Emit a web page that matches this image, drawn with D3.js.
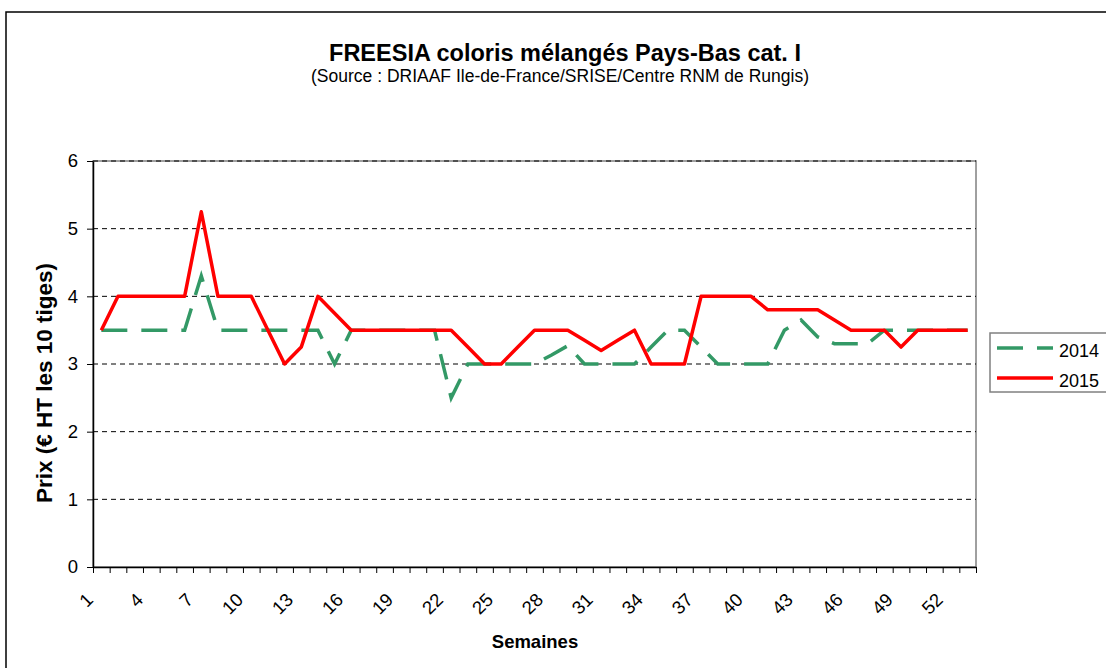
<!DOCTYPE html>
<html>
<head>
<meta charset="utf-8">
<script src="https://cdn.jsdelivr.net/npm/d3@7"></script>
<style>
  body { margin: 0; background: #fff; }
  svg { font-family: "Liberation Sans", Arial, sans-serif; }
</style>
</head>
<body>
<svg id="chart"></svg>
<script>
// weekly prices
var weeks = d3.range(1, 54);
var prix2014 = [3.5,3.5,3.5,3.5,3.5,3.5,4.3,3.5,3.5,3.5,
                3.5,3.5,3.5,3.5,3.0,3.5,3.5,3.5,3.5,3.5,
                3.5,2.5,3.0,3.0,3.0,3.0,3.0,3.13,3.27,3.0,
                3.0,3.0,3.0,3.25,3.5,3.5,3.25,3.0,3.0,3.0,
                3.0,3.5,3.65,3.4,3.3,3.3,3.3,3.5,3.5,3.5,
                3.5,3.5,3.5];
var prix2015 = [3.5,4,4,4,4,4,5.25,4,4,4,
                3.5,3.0,3.25,4,3.75,3.5,3.5,3.5,3.5,3.5,
                3.5,3.5,3.25,3.0,3.0,3.25,3.5,3.5,3.5,3.35,
                3.2,3.35,3.5,3.0,3.0,3.0,4,4,4,4,
                3.8,3.8,3.8,3.8,3.65,3.5,3.5,3.5,3.25,3.5,
                3.5,3.5,3.5];
var seriesNames = ["2014", "2015"];
var seriesColors = ["#339966", "#ff0000"];
var yTicks = [0, 1, 2, 3, 4, 5, 6];
var xTickWeeks = weeks.filter(w => (w - 1) % 3 === 0);

class LineChart {
    constructor(_config) {
        this.config = {
            parentElement: _config.parentElement,
            containerWidth: 1106,
            containerHeight: 668,
            plot: {left: 93, right: 976, top: 161, bottom: 567}
        }
        this.initVis();
    }

    initVis() {
        let vis = this;
        let p = vis.config.plot;

        vis.svg = d3.select(vis.config.parentElement)
            .attr('width', vis.config.containerWidth)
            .attr('height', vis.config.containerHeight);

        // outer chart frame (cut off on the right and bottom)
        vis.svg.append('rect')
            .attr('x', 6).attr('y', 12)
            .attr('width', 1120).attr('height', 680)
            .attr('fill', 'none').attr('stroke', '#000').attr('stroke-width', 1.5);

        vis.svg.append('text')
            .attr('x', 565).attr('y', 61)
            .attr('text-anchor', 'middle')
            .attr('font-size', '23.5px').attr('font-weight', 'bold')
            .text('FREESIA coloris mélangés Pays-Bas cat. I');
        vis.svg.append('text')
            .attr('x', 560).attr('y', 82)
            .attr('text-anchor', 'middle')
            .attr('font-size', '17.5px')
            .text('(Source : DRIAAF Ile-de-France/SRISE/Centre RNM de Rungis)');

        vis.xScale = d3.scaleLinear().domain([0.5, 53.5]).range([p.left, p.right]);
        vis.yScale = d3.scaleLinear().domain([0, 6]).range([p.bottom, p.top]);

        vis.updateVis();
    }

    updateVis() {
        let vis = this;
        let p = vis.config.plot;

        // plot area border
        vis.svg.append('rect')
            .attr('x', p.left).attr('y', p.top)
            .attr('width', p.right - p.left).attr('height', p.bottom - p.top)
            .attr('fill', 'none').attr('stroke', '#808080').attr('stroke-width', 1.5);

        // gridlines
        vis.svg.selectAll('.grid')
            .data(yTicks.filter(d => d > 0))
            .join('line')
            .attr('class', 'grid')
            .attr('x1', p.left).attr('x2', p.right)
            .attr('y1', d => vis.yScale(d)).attr('y2', d => vis.yScale(d))
            .attr('stroke', '#000').attr('stroke-width', 1)
            .attr('stroke-dasharray', '5,4');

        // axes
        vis.yAxis = d3.axisLeft(vis.yScale)
            .tickValues(yTicks)
            .tickFormat(d3.format('d'))
            .tickSize(6).tickPadding(9).tickSizeOuter(0);
        vis.yAxisGroup = vis.svg.append('g')
            .attr('transform', `translate(${p.left},0)`)
            .call(vis.yAxis);

        vis.xAxis = d3.axisBottom(vis.xScale)
            .tickValues(d3.range(0.5, 54, 1))
            .tickFormat('')
            .tickSize(6).tickSizeOuter(0);
        vis.xAxisGroup = vis.svg.append('g')
            .attr('transform', `translate(0,${p.bottom})`)
            .call(vis.xAxis);

        [vis.xAxisGroup, vis.yAxisGroup].forEach(g => {
            g.select('.domain').attr('stroke', '#000').attr('stroke-width', 1.5);
            g.selectAll('.tick line').attr('stroke', '#000');
            g.selectAll('.tick text').attr('font-size', '18.5px').attr('fill', '#000')
                .attr('font-family', '"Liberation Sans", Arial, sans-serif');
        });

        vis.svg.selectAll('.xlabel')
            .data(xTickWeeks)
            .join('text')
            .attr('class', 'xlabel')
            .attr('text-anchor', 'end')
            .attr('font-size', '18.5px')
            .attr('transform', d => `translate(${vis.xScale(d) - 7},${p.bottom + 34}) rotate(-45)`)
            .text(d => d);

        vis.svg.append('text')
            .attr('x', 535).attr('y', 648)
            .attr('text-anchor', 'middle')
            .attr('font-size', '18.5px').attr('font-weight', 'bold')
            .text('Semaines');

        vis.svg.append('text')
            .attr('transform', 'translate(52,383) rotate(-90)')
            .attr('text-anchor', 'middle')
            .attr('font-size', '22.5px').attr('font-weight', 'bold')
            .text('Prix (€ HT les 10 tiges)');

        vis.renderVis();
    }

    renderVis() {
        let vis = this;

        let line = d3.line()
            .x((d, i) => vis.xScale(weeks[i]))
            .y(d => vis.yScale(d));

        vis.svg.append('path')
            .datum(prix2014)
            .attr('fill', 'none')
            .attr('stroke', seriesColors[0]).attr('stroke-width', 3.5)
            .attr('stroke-dasharray', '26,14')
            .attr('d', line);
        vis.svg.append('path')
            .datum(prix2015)
            .attr('fill', 'none')
            .attr('stroke', seriesColors[1]).attr('stroke-width', 3.5)
            .attr('stroke-linejoin', 'round')
            .attr('d', line);

        // legend
        let legend = vis.svg.append('g');
        legend.append('rect')
            .attr('x', 990).attr('y', 333)
            .attr('width', 130).attr('height', 59)
            .attr('fill', '#fff').attr('stroke', '#808080').attr('stroke-width', 1.5);
        seriesNames.forEach((name, i) => {
            let yy = 348 + i * 30;
            legend.append('line')
                .attr('x1', 997).attr('x2', 1053)
                .attr('y1', yy).attr('y2', yy)
                .attr('stroke', seriesColors[i]).attr('stroke-width', 3.5)
                .attr('stroke-dasharray', i === 0 ? '26,14' : null);
            legend.append('text')
                .attr('x', 1059).attr('y', yy + 9)
                .attr('font-size', '18px')
                .text(name);
        });
    }
}

let chart = new LineChart({parentElement: '#chart'});
</script>
</body>
</html>
